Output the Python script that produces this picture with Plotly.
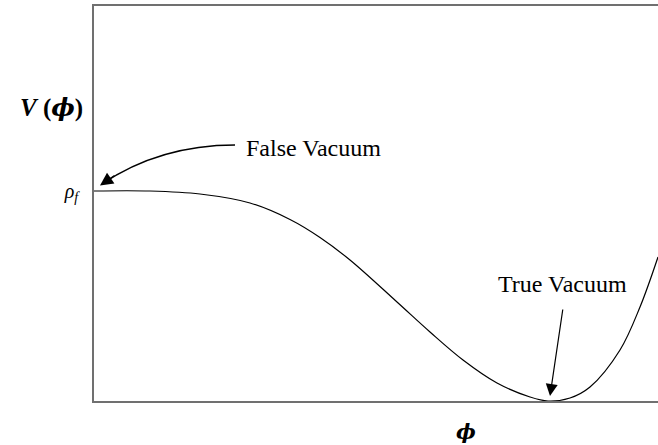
import plotly.graph_objects as go

# potential curve V(phi) (arbitrary units)
phi = [0.00, 0.56, 1.06, 1.56, 1.96, 2.26, 2.56, 3.03, 3.36, 3.69,
       4.03, 4.36, 4.54, 4.76, 4.96, 5.26, 5.46, 5.64]
V = [2.10, 2.10, 2.07, 1.98, 1.815, 1.635, 1.41, 0.99, 0.69, 0.41,
     0.18, 0.04, 0.00, 0.03, 0.14, 0.51, 0.94, 1.44]

rho_f = V[0]
serif = "Liberation Serif"
frame = "#707070"
# straight-stroke phi glyph comes from DejaVu Serif
PHI = '<span style="font-family:DejaVu Serif">ϕ</span>'

fig = go.Figure()
fig.add_trace(go.Scatter(x=phi, y=V, mode="lines",
                         line=dict(color="black", width=1.2, shape="spline", smoothing=1.0),
                         hoverinfo="skip", showlegend=False))

# curved arrow to the false vacuum
fig.add_shape(type="path", path="M 1.41,2.56 Q 0.66,2.56 0.08,2.17",
              line=dict(color="black", width=1.4), xref="x", yref="y")
fig.add_annotation(x=0.06, y=2.155, ax=16, ay=-11, text="", showarrow=True,
                   arrowhead=2, arrowsize=2, arrowwidth=1.3, arrowcolor="black")
fig.add_annotation(x=1.50, y=2.53, text="False Vacuum", showarrow=False,
                   xanchor="left", yanchor="middle", font=dict(family=serif, size=24, color="black"))

# straight arrow to the true vacuum
fig.add_annotation(x=4.56, y=0.05, ax=13, ay=-88, text="", showarrow=True,
                   arrowhead=2, arrowsize=2, arrowwidth=1.2, arrowcolor="black")
fig.add_annotation(x=4.68, y=1.17, text="True Vacuum", showarrow=False,
                   xanchor="center", yanchor="middle", font=dict(family=serif, size=24, color="black"))

# axis labels
fig.add_annotation(xref="paper", yref="paper", x=-0.076, y=0.742,
                   text="<b><i>V</i> (<i>" + PHI + "</i>)</b>",
                   showarrow=False, xanchor="center", yanchor="middle",
                   font=dict(family=serif, size=25, color="black"))
fig.add_annotation(xref="paper", yref="paper", x=0.66, y=-0.078, text="<b><i>" + PHI + "</i></b>",
                   showarrow=False, xanchor="center", yanchor="middle",
                   font=dict(family=serif, size=21, color="black"))

fig.update_xaxes(range=[0, 5.64], showline=True, mirror=True, linecolor=frame, linewidth=1.5,
                 showgrid=False, zeroline=False, showticklabels=False, ticks="")
fig.update_yaxes(range=[0, 3.95], showline=True, linecolor=frame, linewidth=1.5,
                 showgrid=False, zeroline=False, ticks="",
                 tickvals=[rho_f], ticktext=["<i>ρ</i><sub><i>f</i></sub>"], ticklabelstandoff=10,
                 tickfont=dict(family=serif, size=20, color="black"))
fig.update_layout(width=658, height=445, margin=dict(l=94, r=0, t=6, b=44),
                  plot_bgcolor="white", paper_bgcolor="white", showlegend=False)

# the page's default body margin would shift the figure by 8px
fig.write_html("out.html", config={"displayModeBar": False},
               post_script="document.body.style.margin='0';")
